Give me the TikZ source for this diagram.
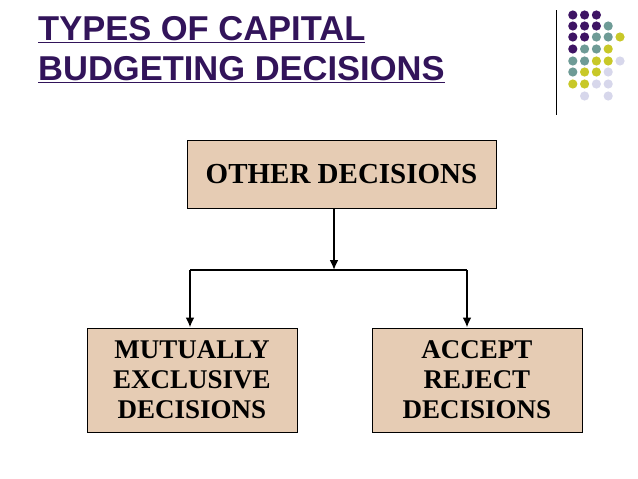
\documentclass[tikz,border=0pt]{standalone}
\usepackage{fontspec}
\setmainfont{Liberation Serif}
\newfontfamily\titlefont{Liberation Sans}
\usetikzlibrary{arrows.meta}
\definecolor{boxtan}{RGB}{230,204,180}
\definecolor{titlepurple}{RGB}{50,20,90}
\definecolor{dotP}{RGB}{62,20,100}
\definecolor{dotT}{RGB}{110,155,150}
\definecolor{dotY}{RGB}{200,200,40}
\definecolor{dotL}{RGB}{215,215,235}
\tikzset{
  decbox/.style={draw, line width=1pt, fill=boxtan, font=\bfseries\fontsize{27}{30}\selectfont, align=center, inner sep=0pt},
  link/.style={line width=2pt, -{Latex[length=10pt,width=9pt]}}
}
\begin{document}
\begin{tikzpicture}[x=1pt, y=-1pt]
    \useasboundingbox (0,0) rectangle (638,479);
    % Title
    \node[anchor=north west, align=left, text=titlepurple, font=\titlefont\bfseries\fontsize{34.5}{40}\selectfont, inner sep=0pt] (title) at (38,16)
        {\underline{TYPES OF CAPITAL}\\\underline{BUDGETING DECISIONS}};

    % Corner ornament
    \draw[thin] (556,10) -- (556,115);
    \foreach \row/\cols in {15/{P,P,P,-,-}, 26/{P,P,P,T,-}, 37/{P,P,T,T,Y}, 49/{P,T,T,Y,-},
                            61/{T,T,Y,Y,L}, 72/{T,Y,Y,L,-}, 84/{Y,Y,L,L,-}, 96/{-,L,-,L,-}} {
        \foreach \c [count=\i] in \cols {
            \if\c-\else
                \fill[dot\c] (561+11.8*\i,\row) circle (4.6);
            \fi
        }
    }

    % Boxes
    \node[decbox, font=\bfseries\fontsize{29}{30}\selectfont, minimum width=309, minimum height=68] (other) at (341.5,174) {OTHER DECISIONS};
    \node[decbox, minimum width=210, minimum height=104] (mutual) at (192,380) {MUTUALLY\\EXCLUSIVE\\DECISIONS};
    \node[decbox, minimum width=210, minimum height=104] (accept) at (477,380) {ACCEPT\\REJECT\\DECISIONS};

    % Connectors
    \coordinate (split) at (334,270);
    \coordinate (leftc) at (190,270);
    \coordinate (rightc) at (467,270);
    \draw[link] (other.south -| split) -- (split);
    \draw[line width=2pt] (leftc) -- (rightc);
    \draw[link] (leftc) -- (leftc |- mutual.north);
    \draw[link] (rightc) -- (rightc |- accept.north);
\end{tikzpicture}
\end{document}
